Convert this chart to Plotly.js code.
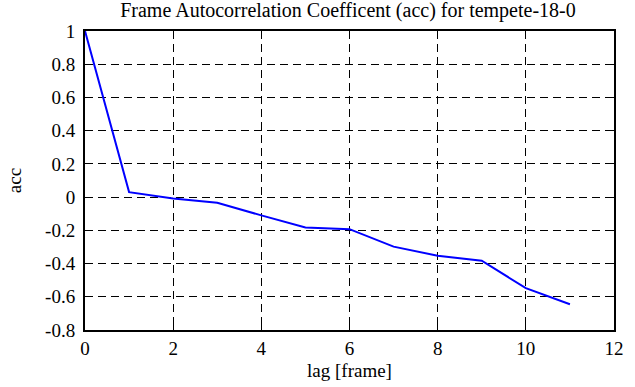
<!DOCTYPE html>
<html>
<head>
<meta charset="utf-8">
<script src="https://cdn.plot.ly/plotly-3.0.1.min.js"></script>
<style>html,body{margin:0;padding:0;background:#fff;}#chart{width:635px;height:387px;}</style>
</head>
<body>
<div id="chart"></div>
<script>
const lags = [0, 1, 2, 3, 4, 5, 6, 7, 8, 9, 10, 11];
const acc = [1, 0.03, -0.008, -0.034, -0.11, -0.183, -0.193, -0.298, -0.353, -0.383, -0.548, -0.645];
const xTicks = [0, 2, 4, 6, 8, 10, 12];
const yTicks = [-0.8, -0.6, -0.4, -0.2, 0, 0.2, 0.4, 0.6, 0.8, 1];
const yTickText = ['-0.8', '-0.6', '-0.4', '-0.2', '0', '0.2', '0.4', '0.6', '0.8', '1'];

const fam = 'Liberation Serif';
function f(size) { return {family: fam, size: size, color: '#000'}; }
Plotly.newPlot('chart', [{
  x: lags, y: acc, type: 'scatter', mode: 'lines',
  line: {color: '#0000ff', width: 2}
}], {
  width: 635, height: 387,
  font: f(19),
  margin: {l: 85, r: 21, t: 31, b: 57},
  paper_bgcolor: '#fff', plot_bgcolor: '#fff',
  showlegend: false,
  title: {text: 'Frame Autocorrelation Coefficent (acc) for tempete-18-0', font: f(20), x: 0.548, xanchor: 'center', y: 0.975, yanchor: 'middle'},
  xaxis: {
    range: [0, 12], tickmode: 'array', tickvals: xTicks, ticktext: xTicks.map(String),
    showgrid: true, gridcolor: '#000', griddash: '8px,5px', gridwidth: 1,
    showline: true, linecolor: '#000', linewidth: 2, mirror: 'ticks',
    ticks: 'inside', ticklen: 5, tickcolor: '#000', tickwidth: 1,
    zeroline: false,
    tickfont: f(19),
    title: {text: 'lag [frame]', font: f(19), standoff: 6}
  },
  yaxis: {
    range: [-0.8, 1], tickmode: 'array', tickvals: yTicks, ticktext: yTickText,
    showgrid: true, gridcolor: '#000', griddash: '8px,5px', gridwidth: 1,
    showline: true, linecolor: '#000', linewidth: 2, mirror: 'ticks',
    ticks: 'inside', ticklen: 5, tickcolor: '#000', tickwidth: 1,
    zeroline: false,
    tickfont: f(19), ticklabelstandoff: 4,
    title: {text: 'acc', font: f(19), standoff: 18}
  }
}, {displayModeBar: false, staticPlot: true});
</script>
</body>
</html>
